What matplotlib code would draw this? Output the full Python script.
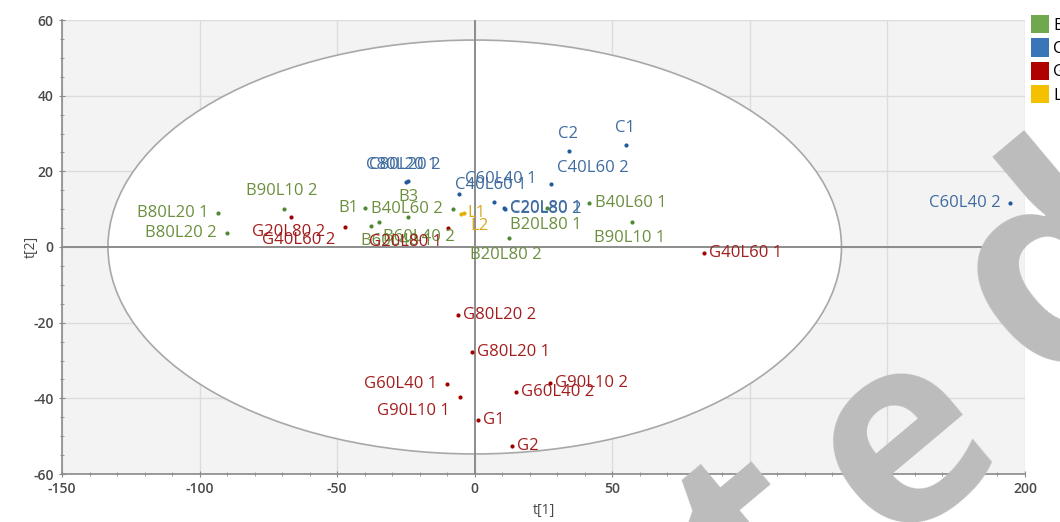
import matplotlib
matplotlib.use("Agg")
import matplotlib.pyplot as plt
from matplotlib.patches import Ellipse, Patch

plt.rcParams['font.family'] = ['Open Sans', 'DejaVu Sans']
plt.rcParams['axes.unicode_minus'] = False

# Score values per group: t[1], t[2]
b_names = ["B80L20 1", "B80L20 2", "B90L10 2", "B1", "B60L40 1", "B60L40 2",
           "B3", "B40L60 2", "B20L80 1", "B20L80 2", "B40L60 1", "B90L10 1"]
b_t1 = [-93.2, -90.0, -69.4, -39.9, -37.8, -34.8, -24.2, -8.0, 26.2, 12.5, 41.5, 57.1]
b_t2 = [8.9, 3.6, 10.0, 10.2, 5.6, 6.7, 7.9, 10.0, 10.2, 2.3, 11.6, 6.7]

c_names = ["C80L20 1", "C80L20 2", "C40L60 1", "C60L40 1", "C20L80 1", "C20L80 2",
           "C40L60 2", "C2", "C1", "C60L40 2"]
c_t1 = [-25.0, -24.4, -5.6, 7.0, 10.7, 11.0, 27.7, 34.3, 54.9, 194.6]
c_t2 = [17.1, 17.4, 13.9, 12.0, 10.2, 10.1, 16.6, 25.4, 27.0, 11.6]

g_names = ["G20L80 2", "G40L60 2", "G20L80 1", "G40L60 1", "G80L20 2", "G80L20 1",
           "G60L40 1", "G90L10 1", "G1", "G2", "G60L40 2", "G90L10 2"]
g_t1 = [-66.9, -47.1, -9.6, 83.5, -6.0, -0.9, -10.2, -5.3, 1.3, 13.4, 14.9, 27.4]
g_t2 = [7.9, 5.2, 4.9, -1.7, -18.0, -27.8, -36.3, -39.7, -45.6, -52.5, -38.2, -35.9]

l_names = ["L1", "L2"]
l_t1 = [-3.9, -5.1]
l_t2 = [9.1, 8.7]

legend_labels = ["B", "C", "G", "L"]
x_ticks = [-150, -100, -50, 0, 50, 100, 150, 200]
y_ticks = [-60, -40, -20, 0, 20, 40, 60]

# Label placement: (dx, dy) in pixels and horizontal alignment
label_pos = {
    "B80L20 1": (-10, 0, "right"), "B80L20 2": (-10, 0, "right"),
    "B90L10 2": (-2, 18, "center"), "B1": (-7, 0, "right"),
    "B60L40 1": (-10, -15, "left"), "B60L40 2": (4, -15, "left"),
    "B3": (0, 20, "center"), "B40L60 2": (-10, 0, "right"),
    "B20L80 1": (-1, -17, "center"), "B20L80 2": (-3, -17, "center"),
    "B40L60 1": (6, 0, "left"), "B90L10 1": (-2, -16, "center"),
    "C80L20 1": (-4, 17, "center"), "C80L20 2": (-3, 16, "center"),
    "C40L60 1": (-4, 9, "left"), "C60L40 1": (7, 23, "center"),
    "C20L80 1": (6, 0, "left"), "C20L80 2": (5, 0, "left"),
    "C40L60 2": (6, 16, "left"), "C2": (-1, 17, "center"),
    "C1": (-1, 17, "center"), "C60L40 2": (-10, 0, "right"),
    "G20L80 2": (-2, -15, "center"), "G40L60 2": (-10, -13, "right"),
    "G20L80 1": (-6, -14, "right"), "G40L60 1": (5, 0, "left"),
    "G80L20 2": (5, 0, "left"), "G80L20 1": (5, 0, "left"),
    "G60L40 1": (-10, 0, "right"), "G90L10 1": (-10, -14, "right"),
    "G1": (5, 0, "left"), "G2": (5, 0, "left"),
    "G60L40 2": (5, 0, "left"), "G90L10 2": (5, 0, "left"),
    "L1": (3, 0, "left"), "L2": (10, -12, "left"),
}

groups = [
    (b_names, b_t1, b_t2, "#4e8a34", "#6b8f3f", "#70a84f"),
    (c_names, c_t1, c_t2, "#1f5a9a", "#3f6b9f", "#3a75b8"),
    (g_names, g_t1, g_t2, "#a00000", "#a21e1e", "#b00000"),
    (l_names, l_t1, l_t2, "#e0b000", "#d9a820", "#f5c000"),
]

fig = plt.figure(figsize=(10.6, 5.22), dpi=100)
ax = fig.add_axes([62 / 1060, 1 - 474 / 522, (1025 - 62) / 1060, (474 - 20) / 522])
ax.set_facecolor("#f3f3f3")
ax.set_xlim(-150, 200)
ax.set_ylim(-60, 60)

# Hotelling T2 ellipse
ax.add_patch(Ellipse((0, 0), 2 * 133.3, 2 * 54.7, facecolor="white",
                     edgecolor="#a8a8a8", linewidth=1.2, zorder=1))

ax.set_xticks(x_ticks)
ax.set_yticks(y_ticks)
ax.set_xticks(range(-150, 201, 10), minor=True)
ax.set_yticks(range(-60, 61, 5), minor=True)
ax.grid(True, which="major", color="#dcdcdc", linewidth=1.0, zorder=0)
ax.set_axisbelow(True)
ax.axhline(0, color="#8c8c8c", linewidth=1.4, zorder=2)
ax.axvline(0, color="#8c8c8c", linewidth=1.4, zorder=2)

for side in ["top", "right"]:
    ax.spines[side].set_visible(False)
for side in ["left", "bottom"]:
    ax.spines[side].set_color("#8a8a8a")
    ax.spines[side].set_linewidth(1.2)
ax.tick_params(which="major", direction="inout", length=5, color="#8a8a8a",
               labelsize=10, labelcolor="#4a4a4a")
ax.tick_params(which="minor", direction="inout", length=3, color="#8a8a8a")
for lab in ax.get_xticklabels() + ax.get_yticklabels():
    lab.set_fontweight("semibold")
ax.set_xlabel("t[1]", fontsize=10, color="#4a4a4a")
ax.set_ylabel("t[2]", fontsize=10, color="#4a4a4a")
ax.xaxis.set_label_coords(0.5, -0.064)
ax.yaxis.set_label_coords(-0.024, 0.5)

for names, xs, ys, dot_c, txt_c, _ in groups:
    ax.scatter(xs, ys, s=9, color=dot_c, zorder=4, linewidths=0)
    for n, x, y in zip(names, xs, ys):
        dx, dy, ha = label_pos[n]
        ax.annotate(n, (x, y), xytext=(dx, dy), textcoords="offset pixels",
                    ha=ha, va="center", fontsize=12, color=txt_c, zorder=5)

handles = [Patch(facecolor=g[5], edgecolor="none") for g in groups]
fig.legend(handles, legend_labels, loc="upper left",
           bbox_to_anchor=(1031 / 1060, 1 - 15 / 522), frameon=False,
           handlelength=1.1, handleheight=1.3, handletextpad=0.25,
           labelspacing=0.28, fontsize=12, borderaxespad=0, borderpad=0)

# Large grey watermark lettering across the lower right
wm = dict(fontweight="bold", color="#bcbcbc", rotation=40,
          ha="center", va="center", transform=fig.transFigure, zorder=10)
for ch, px, py, size in [("t", 763, 545, 190), ("e", 905, 445, 190),
                         ("d", 1060, 272, 200)]:
    fig.text(px / 1060, 1 - py / 522, ch, fontsize=size, **wm)

fig.savefig("out.png", dpi=100)
